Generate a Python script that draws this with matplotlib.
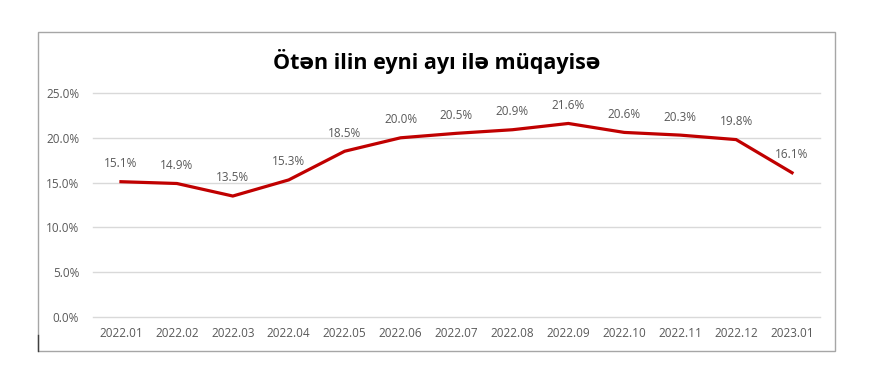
import matplotlib
matplotlib.use("Agg")
import matplotlib.pyplot as plt
from matplotlib.patches import Rectangle
from matplotlib.lines import Line2D

categories = ["2022.01", "2022.02", "2022.03", "2022.04", "2022.05", "2022.06", "2022.07",
              "2022.08", "2022.09", "2022.10", "2022.11", "2022.12", "2023.01"]
values = [15.1, 14.9, 13.5, 15.3, 18.5, 20.0, 20.5, 20.9, 21.6, 20.6, 20.3, 19.8, 16.1]
yticks = [0, 5, 10, 15, 20, 25]
title = "Ötən ilin eyni ayı ilə müqayisə"

plt.rcParams['font.family'] = ['Open Sans', 'DejaVu Sans']

W, H = 873, 389
fig = plt.figure(figsize=(W / 100, H / 100), dpi=100)
fig.patch.set_facecolor("white")

# outer chart border
fig.add_artist(Rectangle((38 / W, 1 - 351 / H), (835 - 38) / W, (351 - 32) / H,
                         transform=fig.transFigure, fill=False, edgecolor="#A6A6A6", linewidth=1))
fig.add_artist(Line2D([38 / W, 38 / W], [1 - 351 / H, 1 - 335 / H], transform=fig.transFigure,
                      color="#404040", linewidth=1))

ax = fig.add_axes([93 / W, 1 - 317 / H, (820 - 93) / W, (317 - 93) / H])
x = list(range(len(categories)))
ax.plot(x, values, color="#C00000", linewidth=2.3, solid_joinstyle="miter", zorder=3)
for xi, v in zip(x, values):
    ax.annotate(f"{v:.1f}%", (xi, v), xytext=(0, 13), textcoords="offset points",
                ha="center", va="center", fontsize=8.5, color="#595959")

ax.set_xlim(-0.5, len(categories) - 0.5)
ax.set_ylim(0, 25)
ax.set_yticks(yticks)
ax.set_yticklabels([f"{t:.1f}%" for t in yticks], fontsize=8.5, color="#595959")
ax.set_xticks(x)
ax.set_xticklabels(categories, fontsize=8.5, color="#595959")
ax.tick_params(length=0, pad=7)
ax.tick_params(axis="y", pad=10)
ax.grid(axis="y", color="#D9D9D9", linewidth=1)
for gl in ax.get_ygridlines():
    gl.set_clip_on(False)
ax.set_axisbelow(True)
for s in ax.spines.values():
    s.set_visible(False)

fig.text(437 / W, 1 - 62 / H, title, ha="center", va="center", fontsize=15.5, fontweight="bold",
         color="black")

fig.savefig("out.png", dpi=100)
